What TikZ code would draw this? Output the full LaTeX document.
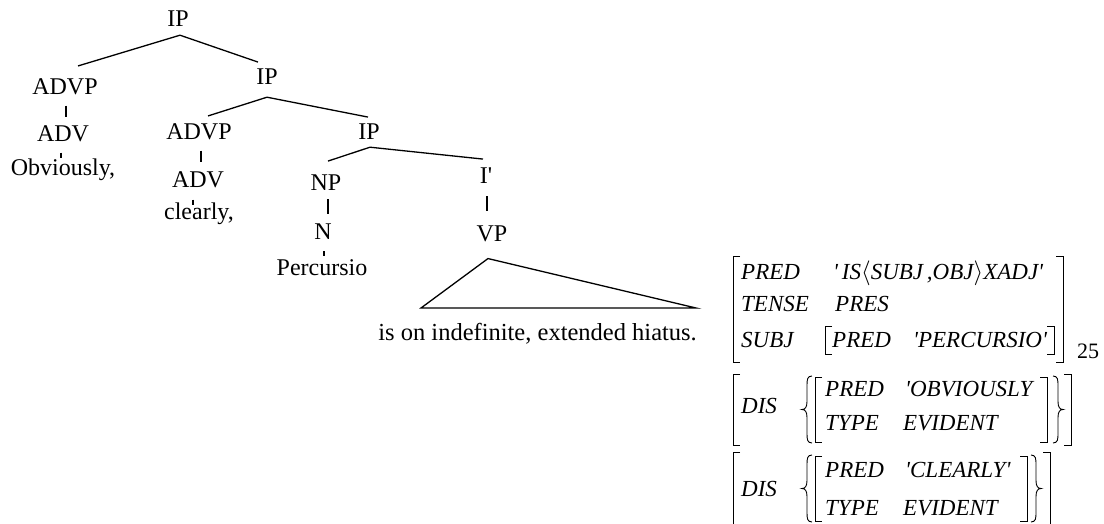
\documentclass[tikz,border=0pt]{standalone}
\usepackage{fontspec}
\setmainfont{Liberation Serif}[Ligatures=TeXOff]
\newfontfamily\avmfont{Liberation Serif}[Ligatures=TeXOff]
\usetikzlibrary{calc}
\newcommand{\avmLsq}[3]{\draw[brk] ({#1+7},#2) -- (#1,#2) -- (#1,#3) -- ({#1+7},#3);}
\newcommand{\avmRsq}[3]{\draw[brk] ({#1-7},#2) -- (#1,#2) -- (#1,#3) -- ({#1-7},#3);}
\newcommand{\avmLbr}[3]{\draw[brk] ({#1+10},#2) .. controls ({#1+5},#2) and ({#1+5},{#2+4}) .. ({#1+5},{#2+10}) -- ({#1+5},{(#2+#3)/2-8}) .. controls ({#1+5},{(#2+#3)/2-2}) and ({#1+3},{(#2+#3)/2}) .. (#1,{(#2+#3)/2}) .. controls ({#1+3},{(#2+#3)/2}) and ({#1+5},{(#2+#3)/2+2}) .. ({#1+5},{(#2+#3)/2+8}) -- ({#1+5},{#3-10}) .. controls ({#1+5},{#3-4}) and ({#1+5},#3) .. ({#1+10},#3);}
\newcommand{\avmRbr}[3]{\draw[brk] ({#1-10},#2) .. controls ({#1-5},#2) and ({#1-5},{#2+4}) .. ({#1-5},{#2+10}) -- ({#1-5},{(#2+#3)/2-8}) .. controls ({#1-5},{(#2+#3)/2-2}) and ({#1-3},{(#2+#3)/2}) .. (#1,{(#2+#3)/2}) .. controls ({#1-3},{(#2+#3)/2}) and ({#1-5},{(#2+#3)/2+2}) .. ({#1-5},{(#2+#3)/2+8}) -- ({#1-5},{#3-10}) .. controls ({#1-5},{#3-4}) and ({#1-5},#3) .. ({#1-10},#3);}
\begin{document}
\begin{tikzpicture}[x=1pt,y=-1pt,
  lab/.style={font=\fontsize{24}{28}\selectfont, inner sep=0pt, anchor=base},
  sent/.style={font=\fontsize{24.5}{28}\selectfont, inner sep=0pt, anchor=base east},
  avm/.style={font=\avmfont\fontsize{23}{27}\selectfont\itshape, inner sep=0pt, anchor=base west},
  num/.style={font=\avmfont\fontsize{22}{26}\selectfont, inner sep=0pt, anchor=base},
  branch/.style={line width=1.3pt},
  brk/.style={line width=0.9pt}]
\useasboundingbox (0,0) rectangle (1104,524);
\fill[white] (0,0) rectangle (1104,524);
\begin{scope}
\clip (0,0) rectangle (1104,524);
% ---------- tree ----------
\node[lab] (ip1)   at (178,27)  {IP};
\node[lab] (advp1) at (65,95)   {ADVP};
\node[lab] (adv1)  at (63,142)  {ADV};
\node[lab] (obv)   at (63,176)  {Obviously,};
\node[lab] (ip2)   at (267,85)  {IP};
\node[lab] (advp2) at (199,140) {ADVP};
\node[lab] (adv2)  at (198,188) {ADV};
\node[lab] (clr)   at (199,219) {clearly,};
\node[lab] (ip3)   at (369,140) {IP};
\node[lab] (np)    at (326,191) {NP};
\node[lab] (n)     at (323,240) {N};
\node[lab] (perc)  at (322,276) {Percursio};
\node[lab] (ibar)  at (486,184) {I'};
\node[lab] (vp)    at (492,241) {VP};
\node[sent] (sen)  at (697,340) {is on indefinite, extended hiatus.};

\draw[branch] ([xshift=2pt,yshift=-8pt]ip1.south) -- ([xshift=13pt,yshift=13pt]advp1.north);
\draw[branch] ([xshift=2pt,yshift=-8pt]ip1.south) -- ([xshift=-9pt,yshift=7pt]ip2.north);
\draw[branch] ([xshift=1pt,yshift=-10pt]advp1.south) -- ([xshift=1pt,yshift=9pt]advp1.south |- adv1.north);
\draw[branch] ([xshift=-2pt,yshift=-10pt]adv1.south) -- ([xshift=-2pt,yshift=-15pt]adv1.south);
\draw[branch] ([yshift=-12pt]ip2.south) -- ([xshift=9pt,yshift=8pt]advp2.north);
\draw[branch] ([yshift=-12pt]ip2.south) -- ([xshift=-1pt,yshift=7pt]ip3.north);
\draw[branch] ([xshift=2pt,yshift=-10pt]advp2.south) -- ([xshift=2pt,yshift=10pt]advp2.south |- adv2.north);
\draw[branch] ([xshift=-5pt,yshift=-11pt]adv2.south) -- ([xshift=-5pt,yshift=-16pt]adv2.south);
\draw[branch] ([xshift=1pt,yshift=-7pt]ip3.south) -- ([xshift=2pt,yshift=14pt]np.north);
\draw[branch] ([xshift=1pt,yshift=-7pt]ip3.south) -- ([xshift=-3pt,yshift=9pt]ibar.north);
\draw[branch] ([xshift=2pt,yshift=-8pt]np.south) -- ([xshift=2pt,yshift=-23pt]np.south);
\draw[branch] ([xshift=1pt,yshift=-11pt]n.south) -- ([xshift=1pt,yshift=-16pt]n.south);
\draw[branch] ([xshift=1pt,yshift=-12pt]ibar.south) -- ([xshift=1pt,yshift=-27pt]ibar.south);
\coordinate (tritop) at ([xshift=-4pt,yshift=-17pt]vp.south);
\coordinate (trileft) at (421,308);
\coordinate (triright) at (696,308);
\draw[branch] (trileft) -- (tritop) -- (triright) -- cycle;

% ---------- f-structure ----------
% matrix 1
\node[avm] (m1a1) at (741,279) {PRED};
\node[avm] (m1a2) at (833,279) {'\,IS$\big\langle$SUBJ\,,OBJ$\big\rangle$XADJ'};
\node[avm] (m1b1) at (741,311) {TENSE};
\node[avm] (m1b2) at (835,311) {PRES};
\node[avm] (m1c1) at (741,347) {SUBJ};
\node[avm] (m1c2) at (832,347) {PRED};
\node[avm] (m1c3) at (913,347) {'PERCURSIO'};
\avmLsq{733}{256}{362}
\avmRsq{1063}{256}{362}
\avmLsq{825}{326}{354}
\avmRsq{1054}{326}{354}
\node[num] (idx) at (1088,358) {25};
% matrix 2
\node[avm] (m2a) at (741,413) {DIS};
\node[avm] (m2b1) at (825,396) {PRED};
\node[avm] (m2b2) at (905,396) {'OBVIOUSLY};
\node[avm] (m2c1) at (825,430) {TYPE};
\node[avm] (m2c2) at (903,430) {EVIDENT};
\avmLsq{733}{374}{445}
\avmRsq{1071}{374}{445}
\avmLbr{802}{376}{443}
\avmRbr{1063}{376}{443}
\avmLsq{815}{377}{442}
\avmRsq{1047}{377}{442}
% matrix 3
\node[avm] (m3a) at (741,496) {DIS};
\node[avm] (m3b1) at (825,477) {PRED};
\node[avm] (m3b2) at (905,477) {'CLEARLY'};
\node[avm] (m3c1) at (825,515) {TYPE};
\node[avm] (m3c2) at (903,515) {EVIDENT};
\draw[brk] (740,452) -- (733,452) -- (733,530);
\draw[brk] (1043,452) -- (1050,452) -- (1050,530);
\avmLbr{802}{455}{522}
\avmRbr{1041}{455}{522}
\avmLsq{815}{456}{521}
\avmRsq{1027}{456}{521}
\end{scope}
\end{tikzpicture}
\end{document}
